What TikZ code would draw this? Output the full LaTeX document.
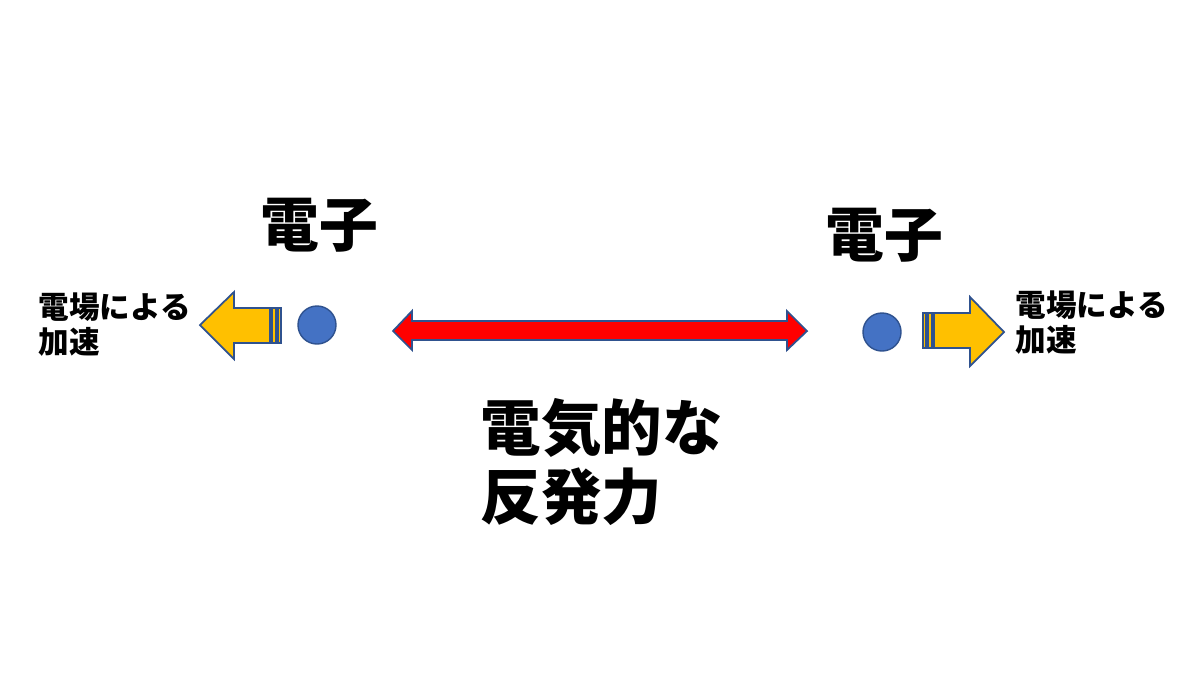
\documentclass[tikz,border=0pt]{standalone}
\usepackage{fontspec}
\usepackage{xcolor}
\newfontfamily\jpfont{Noto Sans CJK JP}
\definecolor{arrowyellow}{HTML}{FFC000}
\definecolor{electronblue}{HTML}{4472C4}
\definecolor{shapeedge}{HTML}{2F528F}
\tikzstyle{electron} = [circle, minimum size=0.38cm, fill=electronblue, draw=shapeedge, inner sep=0pt]
\tikzset{bigtext/.style={font=\jpfont\bfseries\fontsize{16.7}{20}\selectfont, inner sep=0pt},
    smalltext/.style={font=\jpfont\bfseries\fontsize{8.7}{10}\selectfont, align=left, anchor=west, inner sep=0pt},
    pushed/.style={fill=arrowyellow, draw=shapeedge, line width=0.5pt},
    repel/.style={fill=red, draw=shapeedge, line width=0.5pt}}

\begin{document}
\begin{tikzpicture}[x=0.01cm, y=-0.01cm]
    \useasboundingbox (0,0) rectangle (1200,675);
    % electrons
    \node[electron] (eleft) at (317,325) {};
    \node[electron] (eright) at (882,332) {};
    \node[bigtext] (lname) at (319,225) {電子};
    \node[bigtext] (rname) at (884,235) {電子};
    %
    % left striped arrow
    \draw[pushed] (200,325) -- (234,292) -- (234,308) -- (270,308) -- (270,343)
        -- (234,343) -- (234,359) -- cycle;
    \draw[pushed] (272,308) rectangle (276,343);
    \draw[pushed] (278,308) rectangle (281,343);
    % right striped arrow
    \draw[pushed] (1004,332) -- (970,297) -- (970,313) -- (934,313) -- (934,348)
        -- (970,348) -- (970,366) -- cycle;
    \draw[pushed] (932,313) rectangle (928,348);
    \draw[pushed] (926,313) rectangle (923,348);
    %
    % repulsion
    \draw[repel] (393,331) -- (412,311) -- (412,321) -- (787,321) -- (787,311)
        -- (807,331) -- (787,350) -- (787,340) -- (412,340) -- (412,350) -- cycle;
    %
    \node[smalltext] (lacc) at (38,325) {電場による\\加速};
    \node[smalltext] (racc) at (1015,323) {電場による\\加速};
    \node[font=\jpfont\bfseries\fontsize{17.2}{19.6}\selectfont, align=left, anchor=west, inner sep=0pt] (force) at (480,462) {電気的な\\反発力};
\end{tikzpicture}
\end{document}
